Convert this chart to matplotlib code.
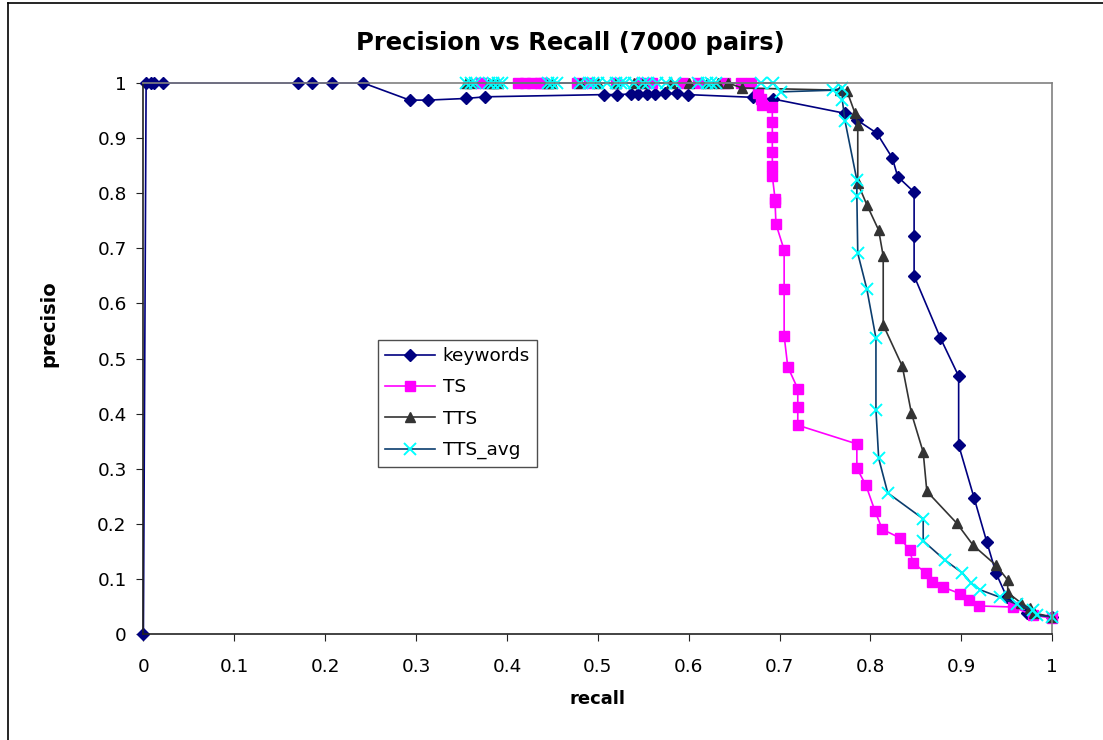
import matplotlib.pyplot as plt
from matplotlib.lines import Line2D

plt.rcParams['font.family'] = ['DejaVu Sans']

# keywords
kw_recall = [0.0, 0.003, 0.008, 0.012, 0.022, 0.170, 0.186, 0.208, 0.242, 0.293, 0.313, 0.355, 0.376,
             0.507, 0.521, 0.536, 0.544, 0.554, 0.563, 0.574, 0.587, 0.599, 0.671, 0.693,
             0.772, 0.785, 0.807, 0.824, 0.830, 0.848, 0.848, 0.848, 0.877, 0.897, 0.897,
             0.914, 0.928, 0.938, 0.950, 0.972, 1.0]
kw_prec = [0.0, 1.0, 1.0, 1.0, 1.0, 1.0, 1.0, 1.0, 1.0, 0.969, 0.969, 0.972, 0.975,
           0.979, 0.979, 0.98, 0.98, 0.98, 0.98, 0.981, 0.981, 0.979, 0.974, 0.971,
           0.945, 0.933, 0.909, 0.864, 0.83, 0.802, 0.722, 0.65, 0.537, 0.468, 0.343,
           0.247, 0.167, 0.111, 0.067, 0.038, 0.031]

# TS
ts_recall = [0.372, 0.412, 0.42, 0.428, 0.436, 0.44, 0.477, 0.49, 0.52, 0.547, 0.56, 0.594, 0.61,
             0.64, 0.657, 0.668, 0.676, 0.679, 0.681, 0.692, 0.692, 0.692, 0.692, 0.692, 0.692,
             0.695, 0.695, 0.696, 0.705, 0.705, 0.705, 0.709, 0.72, 0.72, 0.72, 0.785, 0.785,
             0.795, 0.805, 0.813, 0.833, 0.843, 0.847, 0.861, 0.868, 0.880, 0.899, 0.908, 0.919,
             0.957, 0.979, 1.0]
ts_prec = [1.0, 1.0, 1.0, 1.0, 1.0, 1.0, 1.0, 1.0, 1.0, 1.0, 1.0, 1.0, 1.0,
           1.0, 1.0, 1.0, 0.982, 0.971, 0.96, 0.957, 0.93, 0.902, 0.875, 0.849, 0.831,
           0.79, 0.784, 0.744, 0.697, 0.626, 0.541, 0.485, 0.445, 0.412, 0.379, 0.345, 0.301,
           0.27, 0.223, 0.19, 0.174, 0.152, 0.129, 0.111, 0.094, 0.085, 0.073, 0.062, 0.051,
           0.049, 0.034, 0.029]

# TTS
tts_recall = [0.355, 0.36, 0.38, 0.385, 0.39, 0.445, 0.45, 0.48, 0.5, 0.52, 0.54, 0.55, 0.58,
              0.6, 0.62, 0.632, 0.643, 0.659, 0.766, 0.774, 0.783, 0.786, 0.786, 0.796, 0.809,
              0.814, 0.814, 0.835, 0.845, 0.858, 0.862, 0.895, 0.913, 0.938, 0.951, 0.951,
              0.966, 0.975, 0.98, 1.0]
tts_prec = [1.0, 1.0, 1.0, 1.0, 1.0, 1.0, 1.0, 1.0, 1.0, 1.0, 1.0, 1.0, 1.0,
            1.0, 1.0, 1.0, 1.0, 0.991, 0.987, 0.986, 0.945, 0.924, 0.818, 0.779, 0.733,
            0.686, 0.561, 0.486, 0.401, 0.330, 0.259, 0.201, 0.161, 0.125, 0.098, 0.075,
            0.056, 0.047, 0.038, 0.031]

# TTS_avg
avg_recall = [0.355, 0.36, 0.365, 0.38, 0.385, 0.39, 0.395, 0.445, 0.45, 0.455, 0.48, 0.49, 0.495,
              0.5, 0.51, 0.52, 0.525, 0.53, 0.54, 0.55, 0.555, 0.565, 0.575, 0.585, 0.61, 0.62,
              0.625, 0.63, 0.679, 0.693, 0.701, 0.759, 0.769, 0.769, 0.772, 0.785, 0.785, 0.786,
              0.796, 0.806, 0.806, 0.809, 0.819, 0.858, 0.858, 0.882, 0.901, 0.911, 0.921, 0.942,
              0.961, 0.979, 0.983, 1.0]
avg_prec = [1.0, 1.0, 1.0, 1.0, 1.0, 1.0, 1.0, 1.0, 1.0, 1.0, 1.0, 1.0, 1.0,
            1.0, 1.0, 1.0, 1.0, 1.0, 1.0, 1.0, 1.0, 1.0, 1.0, 1.0, 1.0, 1.0,
            1.0, 1.0, 1.0, 1.0, 0.984, 0.987, 0.991, 0.969, 0.931, 0.824, 0.795, 0.691,
            0.626, 0.537, 0.407, 0.319, 0.256, 0.209, 0.169, 0.134, 0.111, 0.092, 0.08, 0.067,
            0.054, 0.044, 0.034, 0.031]

ticks = [0, 0.1, 0.2, 0.3, 0.4, 0.5, 0.6, 0.7, 0.8, 0.9, 1]
tick_labels = ['0', '0.1', '0.2', '0.3', '0.4', '0.5', '0.6', '0.7', '0.8', '0.9', '1']

fig = plt.figure(figsize=(11.03, 7.4), dpi=100)
ax = fig.add_axes([0.130, 0.1432, 0.824, 0.7446])

ax.plot(kw_recall, kw_prec, color='#000080', lw=1.2, marker='D', ms=6.5, label='keywords', clip_on=False)
ax.plot(ts_recall, ts_prec, color='#FF00FF', lw=1.2, marker='s', ms=6.5, label='TS', clip_on=False)
ax.plot(tts_recall, tts_prec, color='#333333', lw=1.2, marker='^', ms=7.5, label='TTS', clip_on=False)
ax.plot(avg_recall, avg_prec, color='#0B3D6E', lw=1.2, marker='x', ms=8, mew=1.4, mec='#00FFFF',
        label='TTS_avg', clip_on=False)

ax.set_xlim(0, 1)
ax.set_ylim(0, 1)
ax.set_xticks(ticks)
ax.set_xticklabels(tick_labels)
ax.set_yticks(ticks)
ax.set_yticklabels(tick_labels)
ax.tick_params(axis='x', direction='out', length=5, pad=12, labelsize=13.3, color='#222222')
ax.tick_params(axis='y', direction='out', length=5, pad=7, labelsize=13.3, color='#222222')

for s in ['left', 'bottom']:
    ax.spines[s].set_color('#222222')
    ax.spines[s].set_linewidth(1.2)
for s in ['top', 'right']:
    ax.spines[s].set_color('#808080')
    ax.spines[s].set_linewidth(1.2)

ax.set_xlabel('recall', fontsize=13, fontweight='bold', labelpad=10)
ax.set_ylabel('precisio', fontsize=14, fontweight='bold')
ax.yaxis.set_label_coords(-0.094, 0.564)
fig.text(0.517, 0.942, 'Precision vs Recall (7000 pairs)', fontsize=17.5, fontweight='bold',
         ha='center', va='center')

leg = ax.legend(loc='upper left', bbox_to_anchor=(0.258, 0.534), fontsize=13.3, frameon=True,
                fancybox=False, edgecolor='#222222', borderpad=0.4, labelspacing=0.72,
                handlelength=2.7, handletextpad=0.4, borderaxespad=0)
leg.get_frame().set_linewidth(1.0)

# outer chart border (left and top edges visible)
fig.add_artist(Line2D([8 / 1103, 8 / 1103], [0, 1 - 3 / 740], transform=fig.transFigure, color='black', lw=1.2))
fig.add_artist(Line2D([8 / 1103, 1], [1 - 3 / 740, 1 - 3 / 740], transform=fig.transFigure, color='black', lw=1.2))

plt.savefig('out.png', dpi=100)
